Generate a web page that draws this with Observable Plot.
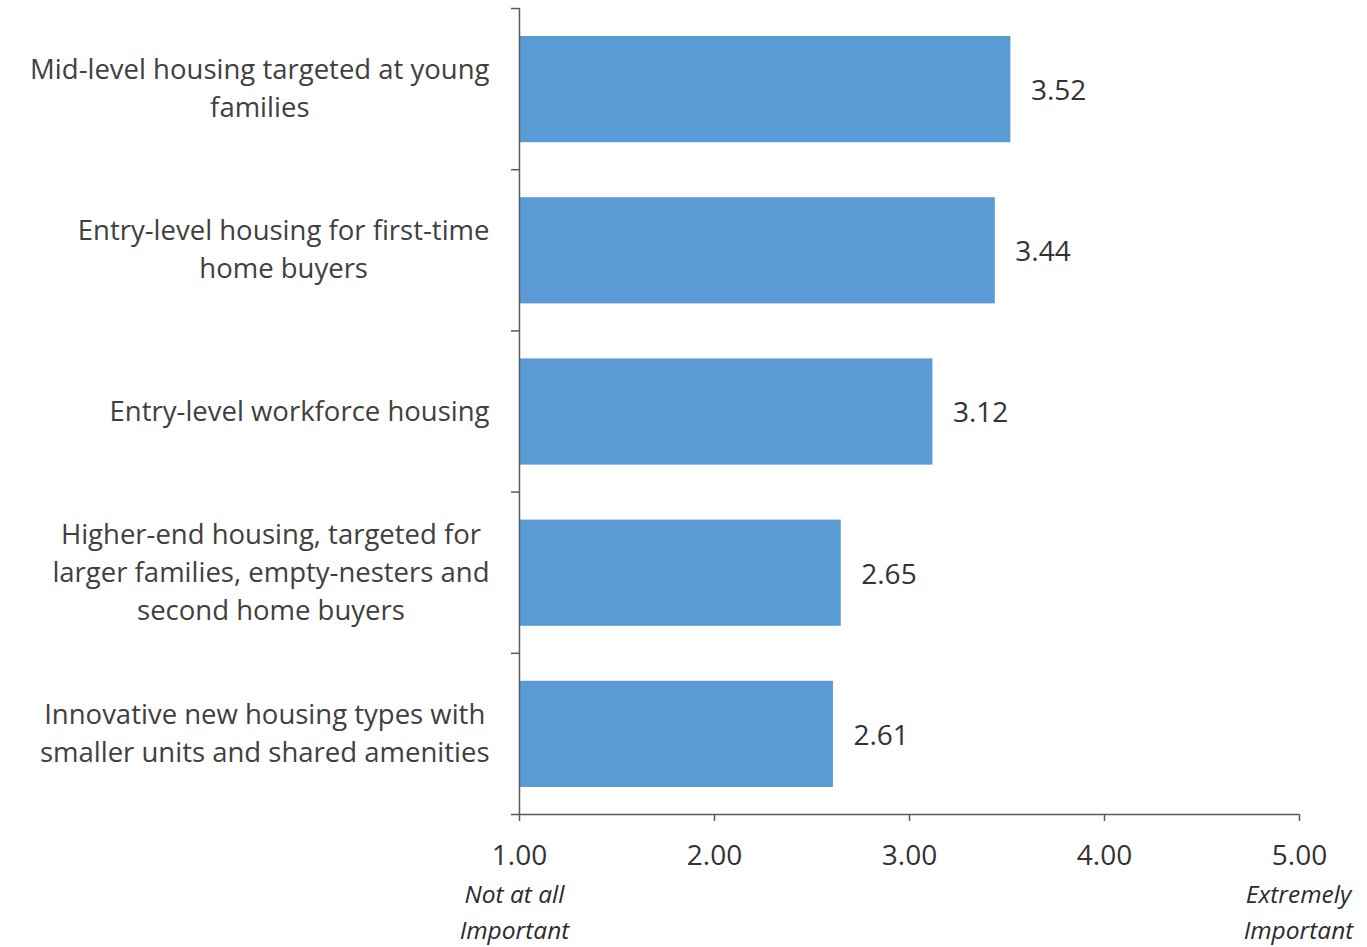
<!DOCTYPE html>
<html><head><meta charset="utf-8">
<script src="https://cdn.jsdelivr.net/npm/d3@7"></script>
<script src="https://cdn.jsdelivr.net/npm/@observablehq/plot@0.6"></script>
<style>body{margin:0;background:#fff}</style>
</head><body><div id="chart"></div>
<script>
const categories = [
  "Mid-level housing targeted at young\nfamilies",
  "Entry-level housing for first-time\nhome buyers",
  "Entry-level workforce housing",
  "Higher-end housing, targeted for\nlarger families, empty-nesters and\nsecond home buyers",
  "Innovative new housing types with\nsmaller units and shared amenities"
];
const values = [3.52, 3.44, 3.12, 2.65, 2.61];
const xTicks = [1, 2, 3, 4, 5];
const endLabels = ["Not at all\nImportant", "Extremely\nImportant"];
const endValues = [1, 5];

const data = categories.map((c, i) => ({cat: c, idx: i, value: values[i]}));
const bandEdges = d3.range(categories.length + 1);

const FONT = "Open Sans";
const catSize = 27.5;
const ctx = document.createElement("canvas").getContext("2d");
ctx.font = `${catSize}px "${FONT}"`;
const maxLineWidth = (s) => d3.max(s.split("\n"), l => ctx.measureText(l).width);

const gray = "#595959";
const textColor = "#404040";

const catMarks = data.map(d => Plot.text([d], {
  x: () => 1, y: d => d.idx + 0.5, text: "cat",
  textAnchor: "middle", dx: -30 - maxLineWidth(d.cat) / 2, dy: -3,
  fontSize: catSize, lineHeight: 38 / catSize, fill: textColor
}));

const endMarks = endLabels.map((lab, i) => Plot.text([lab], {
  x: () => endValues[i], y: () => categories.length, text: d => d,
  dy: 95, dx: i === 0 ? -5 : -1, fontSize: 24.5, fontStyle: "italic",
  lineHeight: 36 / 24.5, fill: "#2b2b2b"
}));

const chart = Plot.plot({
  width: 1367, height: 947,
  marginLeft: 519, marginRight: 68, marginTop: 8, marginBottom: 133,
  style: {fontFamily: FONT, background: "#fff"},
  x: {domain: [1, 5], axis: null, label: null},
  y: {domain: [0, categories.length], reverse: true, axis: null, label: null},
  marks: [
    Plot.rectX(data, {
      x1: () => 1, x2: "value", y1: "idx", y2: d => d.idx + 1,
      insetTop: 28, insetBottom: 27, fill: "#5b9bd5"
    }),
    Plot.ruleX([1], {y1: 0, y2: categories.length, stroke: gray, strokeWidth: 1.5}),
    Plot.ruleY([categories.length], {x1: 1, x2: 5, stroke: gray, strokeWidth: 1.5}),
    Plot.axisY(bandEdges, {tickSize: 8, tickFormat: () => "", label: null, stroke: gray, strokeWidth: 1.5, strokeOpacity: 1}),
    Plot.axisX(xTicks, {tickSize: 7, tickPadding: 24, label: null, tickFormat: d3.format(".2f"), fontSize: 28, fill: "#333", stroke: gray, strokeWidth: 1.5, strokeOpacity: 1}),
    Plot.text(data, {
      x: "value", y: d => d.idx + 0.5, text: d => d.value.toFixed(2),
      textAnchor: "start", dx: 20, dy: 2, fontSize: 28, fill: "#333"
    }),
    ...endMarks,
    ...catMarks
  ]
});
document.getElementById("chart").append(chart);
</script>
</body></html>
